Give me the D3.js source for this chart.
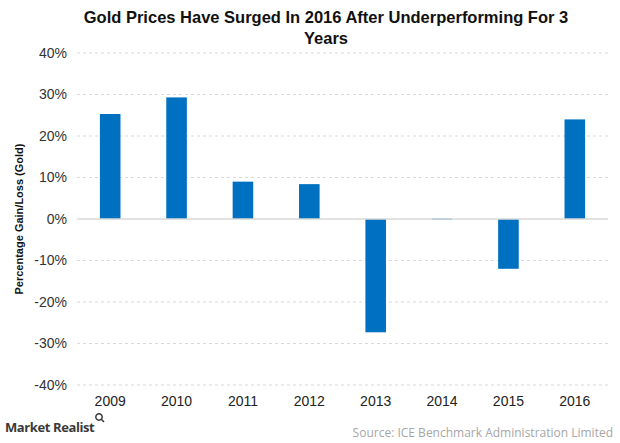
<!DOCTYPE html>
<html><head><meta charset="utf-8">
<script src="https://cdn.jsdelivr.net/npm/d3@7"></script>
<style>body{margin:0;background:#fff}svg{display:block}</style>
</head><body>
<script>
const years = ["2009","2010","2011","2012","2013","2014","2015","2016"];
const changes = [25.3, 29.3, 9.0, 8.4, -27.3, 0.1, -12.0, 24.0];
const yTicks = [-40,-30,-20,-10,0,10,20,30,40];
const titleLines = ["Gold Prices Have Surged In 2016 After Underperforming For 3","Years"];
const yLabel = "Percentage Gain/Loss (Gold)";
const sourceText = "Source: ICE Benchmark Administration  Limited";

const W=620,H=443;
const svg=d3.select("body").append("svg").attr("width",W).attr("height",H);
const m={l:77,r:12,t:53,b:58};
const x=d3.scaleBand().domain(years).range([m.l,W-m.r]).paddingInner(0.69).paddingOuter(0.345);
const y=d3.scaleLinear().domain([-40,40]).range([385,53]);

svg.append("g").selectAll("text").data(titleLines).join("text")
  .attr("x",326).attr("y",(d,i)=>23+i*21).attr("text-anchor","middle")
  .attr("font-family","Liberation Sans, Arial, sans-serif").attr("font-weight","bold")
  .attr("font-size",16.5).attr("fill","#111").text(d=>d);

// grid
svg.append("g").selectAll("line").data(yTicks.filter(t=>t!==0)).join("line")
  .attr("x1",m.l).attr("x2",W-m.r).attr("y1",d=>y(d)).attr("y2",d=>y(d))
  .attr("stroke","#d9d9d9").attr("stroke-dasharray","3,3").attr("stroke-width",1);

// y axis labels
const yAxis=d3.axisLeft(y).tickValues(yTicks).tickFormat(d=>d+"%").tickSize(0).tickPadding(0);
const ga=svg.append("g").attr("transform",`translate(67,0)`).call(yAxis);
ga.select(".domain").remove();
ga.selectAll("text").attr("font-family","Liberation Sans, Arial, sans-serif").attr("font-size",14).attr("fill","#333");

// bars
svg.append("g").selectAll("rect").data(changes).join("rect")
  .attr("x",(d,i)=>x(years[i])).attr("width",x.bandwidth())
  .attr("y",d=>y(Math.max(0,d))).attr("height",d=>Math.max(Math.abs(y(d)-y(0)),1))
  .attr("fill","#0070c0");

// zero line
svg.append("line").attr("x1",m.l).attr("x2",W-m.r).attr("y1",y(0)).attr("y2",y(0))
  .attr("stroke","#d9d9d9").attr("stroke-width",1.5);

// x axis
const xAxis=d3.axisBottom(x).tickSize(0).tickPadding(0);
const gx=svg.append("g").attr("transform",`translate(0,396)`).call(xAxis);
gx.select(".domain").remove();
gx.selectAll("text").attr("font-family","Liberation Sans, Arial, sans-serif").attr("font-size",14).attr("fill","#222").attr("dy","0.71em");

// y title
svg.append("text").attr("transform","translate(23,219) rotate(-90)").attr("text-anchor","middle")
  .attr("font-family","Liberation Sans, Arial, sans-serif").attr("font-weight","bold").attr("font-size",11)
  .attr("fill","#111").text(yLabel);

// logo
svg.append("text").attr("x",5).attr("y",432).attr("font-family","Open Sans, sans-serif").attr("font-weight","700")
  .attr("font-size",13).attr("fill","#3a3a3a").attr("letter-spacing","-0.4").text("Market Realist");
const lg=svg.append("g").attr("transform","translate(99,417)");
lg.append("circle").attr("r",3.2).attr("fill","none").attr("stroke","#3a3a3a").attr("stroke-width",1.5);
lg.append("line").attr("x1",2.3).attr("y1",2.3).attr("x2",5).attr("y2",5).attr("stroke","#3a3a3a").attr("stroke-width",1.6);

// source
svg.append("text").attr("x",613).attr("y",437).attr("text-anchor","end").attr("font-family","Open Sans, sans-serif")
  .attr("font-size",12).attr("fill","#a6a6a6").text(sourceText);
</script>
</body></html>
